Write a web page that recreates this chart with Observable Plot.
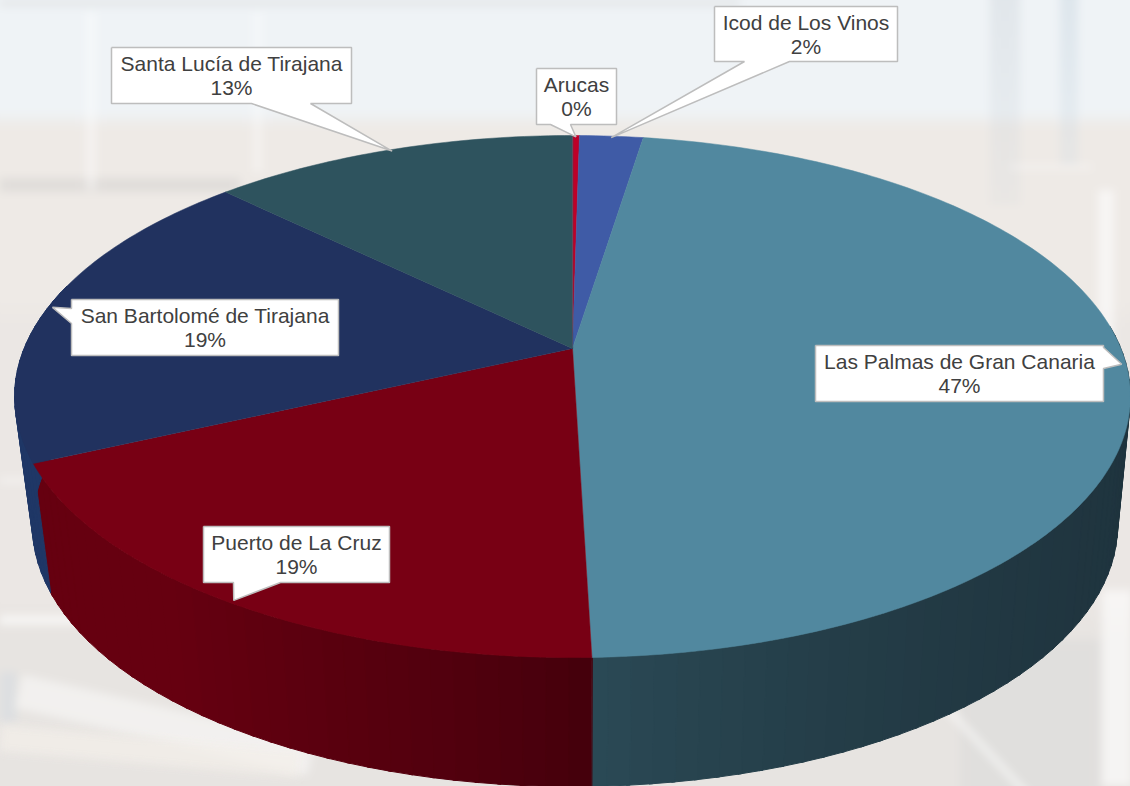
<!DOCTYPE html>
<html>
<head>
<meta charset="utf-8">
<script src="https://cdn.jsdelivr.net/npm/d3@7"></script>
<script src="https://cdn.jsdelivr.net/npm/@observablehq/plot@0.6"></script>
<style>
html,body{margin:0;padding:0;background:#eceaea;overflow:hidden}
#wrap{position:relative;width:1130px;height:786px;overflow:hidden}
#bg{position:absolute;left:-10px;top:-10px;width:1150px;height:806px;filter:blur(4px);
background:
 linear-gradient(rgba(255,255,255,.55),rgba(255,255,255,.55)) 1108px 200px/16px 190px no-repeat,
 linear-gradient(rgba(255,255,255,.6),rgba(255,255,255,.6)) 1112px 600px/30px 196px no-repeat,
 linear-gradient(rgba(255,255,255,.4),rgba(255,255,255,.4)) 1020px 175px/82px 4px no-repeat,
 linear-gradient(rgba(205,212,218,.4),rgba(205,212,218,.15)) 1000px 0/30px 215px no-repeat,
 linear-gradient(rgba(200,214,224,.45),rgba(200,214,224,.2)) 1070px 0/18px 175px no-repeat,
 linear-gradient(rgba(215,215,215,.4),rgba(215,215,215,.4)) 970px 650px/140px 156px no-repeat,
 linear-gradient(rgba(255,255,255,.4),rgba(255,255,255,.4)) 96px 22px/10px 178px no-repeat,
 linear-gradient(rgba(255,255,255,.35),rgba(255,255,255,.35)) 263px 22px/9px 160px no-repeat,
 linear-gradient(rgba(208,206,204,.45),rgba(208,206,204,.45)) 10px 188px/240px 14px no-repeat,
 linear-gradient(rgba(210,210,210,.5),rgba(210,210,210,.25)) 10px 10px/740px 7px no-repeat,
 linear-gradient(rgba(255,255,255,.7),rgba(255,255,255,.7)) 10px 626px/78px 8px no-repeat,
 linear-gradient(rgba(255,255,255,.45),rgba(255,255,255,.45)) 10px 488px/30px 5px no-repeat,
 linear-gradient(rgba(205,215,225,.4),rgba(205,215,225,.4)) 10px 682px/16px 50px no-repeat,
 linear-gradient(180deg,#eff3f6 0 122px,#eeeae6 138px 310px,#ebe7e4 340px 610px,#e7e4e1 650px 806px);
}
.band{position:absolute;filter:blur(4px)}
#chart{position:absolute;left:0;top:0}
svg{display:block;background:transparent!important}
</style>
</head>
<body>
<div id="wrap">
<div id="bg"></div>
<div class="band" style="left:15px;top:708px;width:300px;height:34px;background:rgba(255,255,255,.45);transform:rotate(13deg)"></div>
<div class="band" style="left:0;top:738px;width:300px;height:26px;background:rgba(243,239,234,.7);transform:rotate(5deg)"></div>
<div class="band" style="left:925px;top:752px;width:130px;height:5px;background:rgba(255,255,255,.7);transform:rotate(47deg)"></div>
<div id="chart"></div>
</div>
<script>
// Data (shares in percent, clockwise from the top)
const municipalities = ["Arucas","Icod de Los Vinos","Las Palmas de Gran Canaria","Puerto de La Cruz","San Bartolomé de Tirajana","Santa Lucía de Tirajana"];
const shares = [0.24,2.2,47.1,18.55,19.25,12.66];
const percentLabels = ["0%","2%","47%","19%","19%","13%"];
const topColors = ["#bd0028","#3f5ba6","#51889f","#780014","#21325f","#2e535e"];

// Perspective drawing of the pie disc
const W = 1130, H = 786;
const cx = 572, apexY = 348, p = 0.184, a = 548.4, b = 252.2, depth = 129, shrinkRight = 0.977, shrinkLeft = 0.968;
const rad = t => t * Math.PI / 180;
function rim(theta, lower = false, r = 1) {
  const u = r * Math.sin(rad(theta)), v = r * Math.cos(rad(theta)), d = 1 + p * v;
  const X = a * u / d, Y = -b * v / d;
  return lower ? {x: cx + X * (X < 0 ? shrinkLeft : shrinkRight), y: apexY + Y + depth} : {x: cx + X, y: apexY + Y};
}
let acc = 0;
const slices = municipalities.map((name, i) => {
  const start = acc / 100 * 360; acc += shares[i];
  return {name, i, start, end: acc / 100 * 360, mid: (start + acc / 100 * 360) / 2};
});

// Top faces
const topRows = [];
for (const s of slices) {
  topRows.push({z: s.name, color: topColors[s.i], x: cx, y: apexY});
  const n = Math.max(2, Math.ceil(s.end - s.start));
  for (let k = 0; k <= n; ++k) {
    const q = rim(s.start + (s.end - s.start) * k / n);
    topRows.push({z: s.name, color: topColors[s.i], ...q});
  }
}

// Side walls: narrow strips, shaded as in the reference
const palmasWall = d3.interpolateRgb("#1f343e", "#2b4a56");
const puertoWall = d3.interpolateRgb("#45000c", "#660010");
const wallShade = [
  null, null,
  f => palmasWall(f * f * f),
  f => puertoWall(Math.pow(Math.min(1, f / 0.6), 0.8)),
  () => "#1f3766",
  null
];
const wallRows = [];
for (const s of slices) {
  const shade = wallShade[s.i];
  if (!shade) continue;
  const from = s.i === 2 ? 85 : s.start, to = s.i === 4 ? 285 : s.end;
  const step = 2;
  for (let t = from; t < to; t += step) {
    const e = Math.min(to, t + step + 0.3);
    const f = (t - from) / (to - from);
    const color = d3.color(shade(f)).formatHex();
    const id = s.name + t;
    for (const q of [rim(t), rim(e), rim(e, true), rim(t, true)]) wallRows.push({z: id, color, ...q});
  }
}

// Callouts: the tip sits on the rim at the middle of each slice
const boxes = [
  {l:536,r:616,t:68,b:124,side:"bottom",b0:550,b1:570},
  {l:714,r:897,t:6,b:61,side:"bottom",b0:744,b1:789},
  {l:815,r:1103,t:345,b:401,side:"right",b0:347,b1:368},
  {l:203,r:389,t:526,b:582,side:"bottom",b0:233,b1:280},
  {l:71,r:338,t:299,b:355,side:"left",b0:308,b1:323},
  {l:111,r:351,t:47,b:103,side:"bottom",b0:251,b1:310}
];
const calloutRows = [], labelRows = [];
slices.forEach((s, i) => {
  const B = boxes[i], tip = rim(s.mid, false, 0.992);
  let pts;
  if (B.side === "bottom") pts = [[B.l,B.t],[B.r,B.t],[B.r,B.b],[B.b1,B.b],[tip.x,tip.y],[B.b0,B.b],[B.l,B.b]];
  if (B.side === "right") pts = [[B.l,B.t],[B.r,B.t],[B.r,B.b0],[tip.x,tip.y],[B.r,B.b1],[B.r,B.b],[B.l,B.b]];
  if (B.side === "left") pts = [[B.l,B.t],[B.r,B.t],[B.r,B.b],[B.l,B.b],[B.l,B.b1],[tip.x,tip.y],[B.l,B.b0]];
  pts.push(pts[0]);
  pts.forEach(([x, y]) => calloutRows.push({z: s.name, x, y}));
  labelRows.push({x: (B.l + B.r) / 2, y: (B.t + B.b) / 2, text: s.name + "\n" + percentLabels[i]});
});

const chart = Plot.plot({
  width: W, height: H,
  margin: 0,
  style: {background: "transparent", fontFamily: "'Liberation Sans', Arial, sans-serif"},
  x: {domain: [0, W], range: [0, W], axis: null},
  y: {domain: [0, H], range: [0, H], axis: null},
  marks: [
    Plot.line(wallRows, {x: "x", y: "y", z: "z", fill: "color", stroke: "color", strokeWidth: 1, curve: "linear-closed"}),
    Plot.line(topRows, {x: "x", y: "y", z: "z", fill: "color", stroke: "color", strokeWidth: 0.5, curve: "linear-closed"}),
    Plot.line(calloutRows, {x: "x", y: "y", z: "z", fill: "white", stroke: "#bdbdbd", strokeWidth: 1.5, strokeLinejoin: "miter", strokeLinecap: "butt"}),
    Plot.text(labelRows, {x: "x", y: "y", text: "text", fill: "#404040", fontSize: 21, lineHeight: 1.14, textAnchor: "middle"})
  ]
});
document.getElementById("chart").appendChild(chart);
</script>
</body>
</html>
